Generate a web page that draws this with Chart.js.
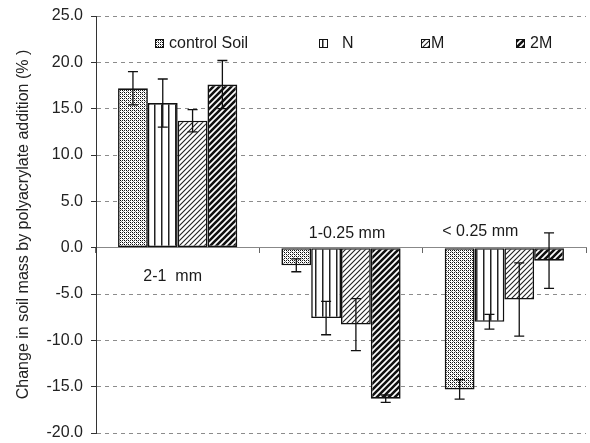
<!DOCTYPE html>
<html>
<head>
<meta charset="utf-8">
<script src="https://cdn.jsdelivr.net/npm/chart.js@4.4.1/dist/chart.umd.min.js"></script>
<style>
  html, body { margin: 0; padding: 0; background: #fff; }
  #wrap { width: 590px; height: 443px; position: relative; }
</style>
</head>
<body>
<div id="wrap"><canvas id="chart"></canvas></div>
<script>
// Aggregate size classes and polyacrylate treatments
const sizeClasses = ['2-1  mm', '1-0.25 mm', '< 0.25 mm'];
const treatments = ['control Soil', 'N', 'M', '2M'];

// Mean change in soil mass (%) per size class
const controlSoil = [17.2, -1.9, -15.3];
const nTreat      = [15.6, -7.6, -8.0];
const mTreat      = [13.7, -8.3, -5.6];
const twoMTreat   = [17.6, -16.3, -1.4];

// Error bar half-widths (%)
const controlErr = [1.8, 0.7, 1.05];
const nErr       = [2.6, 1.8, 0.8];
const mErr       = [1.2, 2.8, 3.95];
const twoMErr    = [2.6, 0.4, 3.0];

// Value axis range and step
const yMin = -20, yMax = 25, yStep = 5;

const FONT = "'Liberation Sans', Arial, sans-serif";

// ---- fill patterns ----
function makeTile(w, h, draw) {
  const c = document.createElement('canvas');
  c.width = w; c.height = h;
  const g = c.getContext('2d');
  g.fillStyle = '#fff';
  g.fillRect(0, 0, w, h);
  draw(g, w, h);
  return document.createElement('canvas').getContext('2d').createPattern(c, 'repeat');
}
function diagonal(g, s, width, color) {
  g.strokeStyle = color;
  g.lineWidth = width;
  g.beginPath();
  g.moveTo(0, s); g.lineTo(s, 0);
  g.moveTo(-s / 2, s / 2); g.lineTo(s / 2, -s / 2);
  g.moveTo(s / 2, s + s / 2); g.lineTo(s + s / 2, s / 2);
  g.stroke();
}
const patControl = makeTile(4, 4, (g) => {
  g.fillStyle = '#000';
  g.fillRect(0, 0, 1, 1); g.fillRect(2, 2, 1, 1);
  g.fillStyle = '#222';
  g.fillRect(2, 0, 1, 1); g.fillRect(0, 2, 1, 1);
  g.fillStyle = '#888';
  g.fillRect(1, 1, 1, 1); g.fillRect(3, 3, 1, 1);
});
const patN = makeTile(7, 1, (g) => {
  g.fillStyle = '#222';
  g.fillRect(0, 0, 1.5, 1);
});
const patM = makeTile(5, 5, (g) => diagonal(g, 5, 1.1, '#222'));
const pat2M = makeTile(6, 6, (g) => diagonal(g, 6, 2.6, '#111'));

const fills = [patControl, patN, patM, pat2M];
const values = [controlSoil, nTreat, mTreat, twoMTreat];
const errors = [controlErr, nErr, mErr, twoMErr];

// ---- error bars ----
const errorBars = {
  id: 'errorBars',
  afterDatasetsDraw(chart) {
    const { ctx } = chart;
    const y = chart.scales.y;
    ctx.save();
    ctx.strokeStyle = '#111';
    ctx.lineWidth = 1.3;
    chart.data.datasets.forEach((ds, i) => {
      const meta = chart.getDatasetMeta(i);
      meta.data.forEach((bar, j) => {
        const v = ds.data[j], e = ds.errors[j];
        const yt = y.getPixelForValue(v + e);
        const yb = y.getPixelForValue(v - e);
        const x = bar.x;
        ctx.beginPath();
        ctx.moveTo(x, yt); ctx.lineTo(x, yb);
        ctx.moveTo(x - 5, yt); ctx.lineTo(x + 5, yt);
        ctx.moveTo(x - 5, yb); ctx.lineTo(x + 5, yb);
        ctx.stroke();
      });
    });
    ctx.restore();
  }
};

// ---- size class labels next to the zero line ----
const classLabels = {
  id: 'classLabels',
  afterDatasetsDraw(chart, args, opts) {
    const { ctx } = chart;
    const x = chart.scales.x, y = chart.scales.y;
    const y0 = y.getPixelForValue(0);
    ctx.save();
    ctx.font = '16px ' + FONT;
    ctx.fillStyle = '#1a1a1a';
    ctx.textAlign = 'center';
    ctx.textBaseline = 'middle';
    chart.data.labels.forEach((lab, i) => {
      ctx.fillText(lab, x.getPixelForValue(i) + opts.dx[i], y0 + opts.dy[i]);
    });
    ctx.restore();
  }
};

// ---- legend row inside the plot ----
const insideLegend = {
  id: 'insideLegend',
  afterDraw(chart, args, opts) {
    const { ctx } = chart;
    ctx.save();
    ctx.font = '16px ' + FONT;
    ctx.textBaseline = 'middle';
    chart.data.datasets.forEach((ds, i) => {
      const bx = opts.boxX[i], by = opts.boxY;
      ctx.fillStyle = ds.backgroundColor;
      ctx.fillRect(bx, by, 8, 8);
      ctx.strokeStyle = '#111';
      ctx.lineWidth = 1;
      ctx.strokeRect(bx + 0.5, by + 0.5, 8, 8);
      ctx.fillStyle = '#1a1a1a';
      ctx.fillText(ds.label, opts.textX[i], by + 4.5);
    });
    ctx.restore();
  }
};

new Chart(document.getElementById('chart'), {
  type: 'bar',
  data: {
    labels: sizeClasses,
    datasets: treatments.map((t, i) => ({
      label: t,
      data: values[i],
      errors: errors[i],
      backgroundColor: fills[i],
      borderColor: '#111',
      borderWidth: 1.6,
      borderSkipped: false,
      categoryPercentage: 0.73,
      barPercentage: 1.0
    }))
  },
  options: {
    responsive: true,
    maintainAspectRatio: false,
    animation: false,
    layout: { padding: { top: 16, right: 4, bottom: 10, left: 0 } },
    plugins: {
      legend: { display: false },
      tooltip: { enabled: false },
      classLabels: { dx: [-5, 6, -24], dy: [29, -14, -16] },
      insideLegend: { boxX: [155, 319, 421, 516], boxY: 39, textX: [169, 342, 431, 530] }
    },
    scales: {
      x: {
        position: { y: 0 },
        ticks: { display: false },
        grid: { offset: true, drawOnChartArea: false, drawTicks: true, tickLength: 5, tickColor: '#666', lineWidth: 1 },
        border: { display: true, color: '#888', width: 1 },
        afterFit: (s) => { s.height = 0; }
      },
      y: {
        min: yMin, max: yMax,
        ticks: {
          stepSize: yStep,
          callback: (v) => v.toFixed(1),
          font: { family: FONT, size: 16 },
          color: '#222',
          padding: 8
        },
        grid: {
          color: (c) => (c.tick && c.tick.value === 0) ? 'rgba(0,0,0,0)' : '#8c8c8c',
          lineWidth: 1,
          drawTicks: true,
          tickLength: 5,
          tickColor: '#333'
        },
        border: { display: true, color: '#333', width: 1, dash: [4, 4] },
        title: {
          display: true,
          text: 'Change in soil mass by polyacrylate addition (% )',
          font: { family: FONT, size: 16 },
          color: '#222',
          padding: { top: 14, bottom: 0 }
        },
        afterFit: (s) => {
          s.width = 96;
          s.paddingTop = 0;
          s.paddingBottom = 0;
        }
      }
    }
  },
  plugins: [errorBars, classLabels, insideLegend]
});
</script>
</body>
</html>
